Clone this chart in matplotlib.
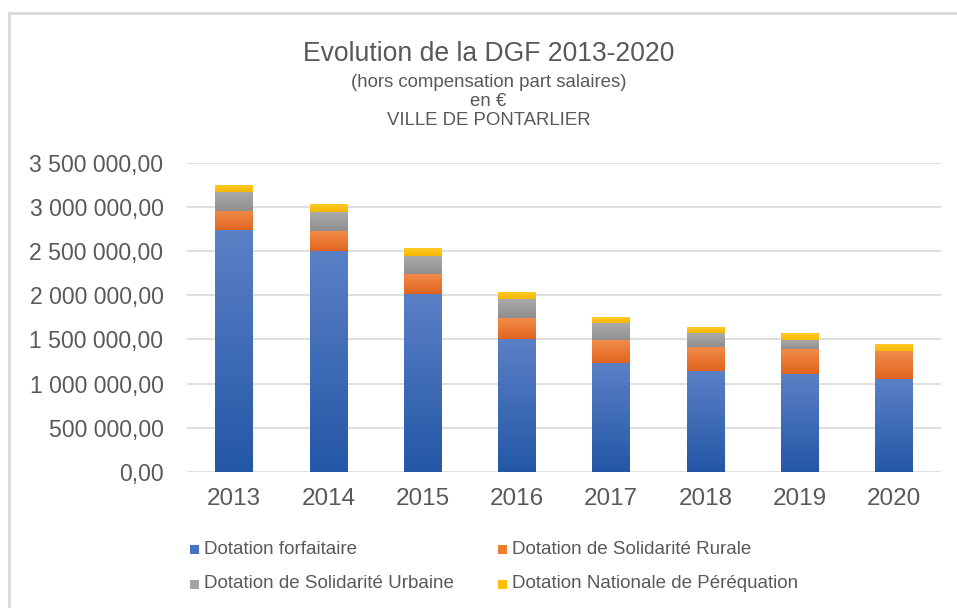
import matplotlib
matplotlib.use("Agg")
import matplotlib.pyplot as plt
import numpy as np
from matplotlib.colors import LinearSegmentedColormap
from matplotlib.patches import Rectangle

years = ["2013", "2014", "2015", "2016", "2017", "2018", "2019", "2020"]
forfaitaire = [2737000, 2503000, 2014000, 1506000, 1235000, 1137000, 1103000, 1047000]
rurale = [218000, 222000, 233000, 233000, 260000, 274000, 290000, 319000]
urbaine = [217000, 218000, 200000, 219000, 187000, 158000, 105000, 0]
perequation = [73000, 87000, 90000, 71000, 57000, 57000, 71000, 72000]
series_names = ["Dotation forfaitaire", "Dotation de Solidarité Rurale",
                "Dotation de Solidarité Urbaine", "Dotation Nationale de Péréquation"]
yticks = [0, 500000, 1000000, 1500000, 2000000, 2500000, 3000000, 3500000]

plt.rcParams['font.family'] = ['Liberation Sans', 'DejaVu Sans']

W, H = 957, 608
fig = plt.figure(figsize=(W / 100, H / 100), dpi=100)
fig.patch.set_facecolor("white")

# outer chart border (top and left visible)
fig.add_artist(Rectangle((9 / W, -0.1), 1.2, (H - 13) / H + 0.1, transform=fig.transFigure,
                         fill=False, edgecolor="#d9d9d9", linewidth=2))

ax = fig.add_axes([187 / W, (H - 471.7) / H, (941 - 187) / W, (471.7 - 163) / H])
ax.set_facecolor("white")

colors_top = ["#5b80c6", "#f28c4a", "#ababab", "#ffca2a"]
colors_bot = ["#2357a6", "#e0651f", "#8f8f8f", "#f5b700"]
base_colors = ["#4472c4", "#ed7d31", "#a5a5a5", "#ffc000"]

data = [forfaitaire, rurale, urbaine, perequation]
x = np.arange(len(years))
bottom = np.zeros(len(years))
width = 0.4
grad = np.linspace(1, 0, 256).reshape(-1, 1)
for i, vals in enumerate(data):
    vals = np.array(vals, dtype=float)
    bars = ax.bar(x, vals, width, bottom=bottom, color=base_colors[i], zorder=3, linewidth=0)
    cmap = LinearSegmentedColormap.from_list(f"g{i}", [colors_bot[i], colors_top[i]])
    for r in bars:
        if r.get_height() <= 0:
            continue
        x0, y0, w, h = r.get_x(), r.get_y(), r.get_width(), r.get_height()
        ax.imshow(grad, extent=[x0, x0 + w, y0, y0 + h], aspect="auto", cmap=cmap,
                  vmin=0, vmax=1, zorder=3.5, interpolation="bilinear")
    bottom += vals

ax.set_xlim(-0.5, len(years) - 0.5)
ax.set_ylim(0, 3500000)
ax.set_yticks(yticks)
ax.set_yticklabels([f"{v:,.2f}".replace(",", " ").replace(".", ",") for v in yticks])
ax.set_xticks(x)
ax.set_xticklabels(years)
ax.grid(axis="y", color="#d9d9d9", linewidth=1.2, zorder=0)
ax.set_axisbelow(True)
for s in ax.spines.values():
    s.set_visible(False)
ax.tick_params(axis="both", length=0, colors="#595959")
ax.tick_params(axis="y", labelsize=16.6, pad=17)
ax.tick_params(axis="x", labelsize=17.5, pad=12)

# titles
tc = 488.5 / W
fig.text(tc, 1 - 60.7 / H, "Evolution de la DGF 2013-2020", ha="center", va="baseline",
         fontsize=19.1, color="#595959")
fig.text(tc, 1 - 86.7 / H, "(hors compensation part salaires)", ha="center", va="baseline",
         fontsize=13.4, color="#595959")
fig.text(tc, 1 - 106 / H, "en €", ha="center", va="baseline", fontsize=13.4, color="#595959")
fig.text(tc, 1 - 125 / H, "VILLE DE PONTARLIER", ha="center", va="baseline",
         fontsize=13.4, color="#595959")

# legend
leg_pos = [(190, 549), (498, 549), (190, 584), (498, 584)]
for i, name in enumerate(series_names):
    mx, my = leg_pos[i]
    fig.add_artist(Rectangle((mx / W, 1 - (my + 4.5) / H), 9 / W, 9 / H, transform=fig.transFigure,
                             facecolor=base_colors[i], edgecolor="none"))
    fig.text((mx + 14) / W, 1 - my / H, name, ha="left", va="center", fontsize=13.5, color="#595959")

fig.savefig("out.png", dpi=100, facecolor="white")
